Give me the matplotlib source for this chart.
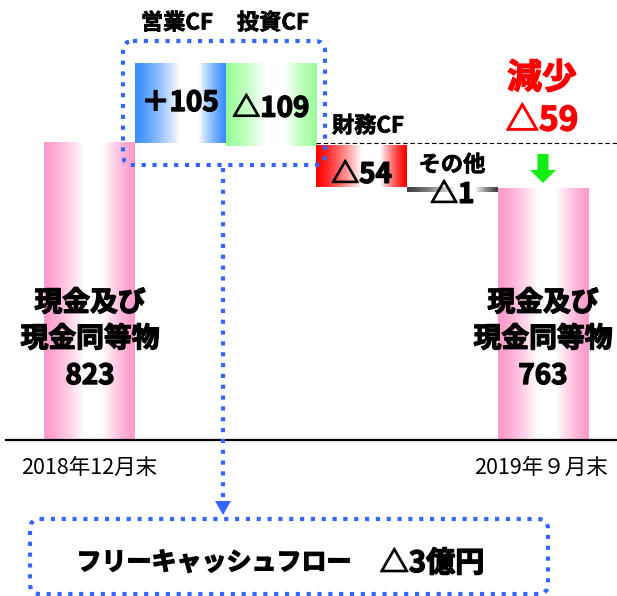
import numpy as np
import matplotlib
matplotlib.use("Agg")
import matplotlib.pyplot as plt
import matplotlib.patheffects as pe
from matplotlib.patches import FancyBboxPatch, Polygon, FancyArrow
from matplotlib.colors import to_rgb

plt.rcParams['font.family'] = ['Noto Sans CJK JP', 'DejaVu Sans']

# ---- data ----
categories = ['期首', '営業CF', '投資CF', '財務CF', 'その他', '期末']
start_value = 823
changes = [105, -109, -54, -1]
end_value = 763
change_labels = ['＋105', '△109', '△54', '△1']
period_labels = ['2018年12月末', '2019年９月末']
balance_name = ['現金及び', '現金同等物']
fcf_label = 'フリーキャッシュフロー'
fcf_value = '△3億円'
decrease_title = '減少'
decrease_value = '△59'

# ---- styles ----
pink = '#FF99CC'
change_colors = ['#3A8EFF', '#99FF99', '#FF0000', '#404040']
change_centers = [0.62, 0.55, 0.63, 0.68]
dot_blue = '#3366FF'
heavy = [pe.withStroke(linewidth=1.0, foreground='black')]
light = [pe.withStroke(linewidth=0.5, foreground='black')]
heavy_red = [pe.withStroke(linewidth=1.0, foreground='#FF0000')]

W, H = 617, 596
fig = plt.figure(figsize=(W / 100, H / 100), dpi=100)
ax = fig.add_axes([0, 0, 1, 1])
ax.set_axis_off()
ov = fig.add_axes([0, 0, 1, 1], zorder=5)
ov.set_axis_off()
ov.patch.set_alpha(0)
ov.set_xlim(0, W)
ov.set_ylim(H, 0)

base = 432.0
min_visible = 6


def grad_bar(x0, x1, y0, y1, color, c=0.55):
    t = np.linspace(0, 1, 300)
    f = np.where(t < c, t / c, (1 - t) / (1 - c))
    w = np.clip(f * 1.25, 0, 1) ** 1.3
    e = np.array(to_rgb(color))
    col = e[None, :] + (1 - e[None, :]) * w[:, None]
    ax.imshow(col[None, :, :], extent=[x0, x1, min(y0, y1), max(y0, y1)],
              aspect='auto', interpolation='bilinear', zorder=2)


# start / end bars
grad_bar(-0.5, 0.5, base, start_value, pink, 0.55)
n = len(changes)
grad_bar(n + 0.5, n + 1.5, base, end_value, pink, 0.55)

# change bars (waterfall)
running = start_value
label_pos = []
for i, v in enumerate(changes):
    x = i + 1
    lo, hi = sorted([running, running + v])
    if hi - lo < min_visible:
        lo = hi - min_visible
    grad_bar(x - 0.5, x + 0.5, lo, hi, change_colors[i], change_centers[i])
    label_pos.append((x, (lo + hi) / 2))
    running += v

label_offsets = [0, -3, -6, -4]
for (x, y), lab, off in zip(label_pos, change_labels, label_offsets):
    ax.annotate(lab, (x, y), xytext=(0, off), textcoords='offset points',
                ha='center', va='center', fontsize=20, fontweight='bold',
                path_effects=heavy, zorder=6)

# dashed reference line at start level
ax.plot([2.5, 6], [start_value, start_value], color='black', lw=0.8,
        ls=(0, (4, 2.5)), zorder=3)

ax.set_xlim(-89.5 / 90.7, (W - 89.5) / 90.7)
ax.set_ylim(227, 1011)

# baseline
ov.plot([6, W], [440, 440], color='black', lw=1.6, zorder=4)

# labels above change bars
ov.text(177, 23, categories[1], ha='center', va='center', fontsize=16,
        fontweight='bold', path_effects=light)
ov.text(273, 23, categories[2], ha='center', va='center', fontsize=16,
        fontweight='bold', path_effects=light)
ov.text(368, 126, categories[3], ha='center', va='center', fontsize=16,
        fontweight='bold', path_effects=light)
ov.text(452, 165, categories[4], ha='center', va='center', fontsize=16,
        fontweight='bold', path_effects=light)

# balance labels
for cx, val in [(90, start_value), (543, end_value)]:
    ov.text(cx, 303, balance_name[0], ha='center', va='center', fontsize=20,
            fontweight='bold', path_effects=heavy)
    ov.text(cx, 339, balance_name[1], ha='center', va='center', fontsize=20,
            fontweight='bold', path_effects=heavy)
    ov.text(cx, 376, str(val), ha='center', va='center', fontsize=20,
            fontweight='bold', path_effects=heavy)

# period labels
ov.text(89, 468, period_labels[0], ha='center', va='center', fontsize=15.5)
ov.text(541, 468, period_labels[1], ha='center', va='center', fontsize=15.5)

# decrease note
ov.text(542, 78, decrease_title, ha='center', va='center', fontsize=25,
        fontweight='bold', color='#FF0000', path_effects=heavy_red)
ov.text(542, 121, decrease_value, ha='center', va='center', fontsize=24,
        fontweight='bold', color='#FF0000', path_effects=heavy_red)

# green arrow
ov.add_patch(FancyArrow(543, 154, 0, 29, width=11, head_width=26, head_length=13,
                        length_includes_head=True, color='#11EE11', lw=0, zorder=6))

# dotted boxes
dot_ls = (0, (1, 1.6))
ov.add_patch(FancyBboxPatch((123, 41), 202, 124,
                            boxstyle='round,pad=0,rounding_size=10',
                            fill=False, ec=dot_blue, lw=3, ls=dot_ls, zorder=7))
ov.add_patch(FancyBboxPatch((30, 519), 518, 75,
                            boxstyle='round,pad=0,rounding_size=10',
                            fill=False, ec=dot_blue, lw=3, ls=dot_ls, zorder=7))
ov.plot([223, 223], [168, 500], color=dot_blue, lw=3, ls=dot_ls, zorder=7)
ov.add_patch(Polygon([(215, 501), (231, 501), (223, 515)], closed=True,
                     color=dot_blue, lw=0, zorder=7))

# free cash flow text
ov.text(214, 563, fcf_label, ha='center', va='center', fontsize=18,
        fontweight='bold', path_effects=heavy)
ov.text(432, 563, fcf_value, ha='center', va='center', fontsize=21,
        fontweight='bold', path_effects=heavy)

fig.savefig('out.png', dpi=100)
